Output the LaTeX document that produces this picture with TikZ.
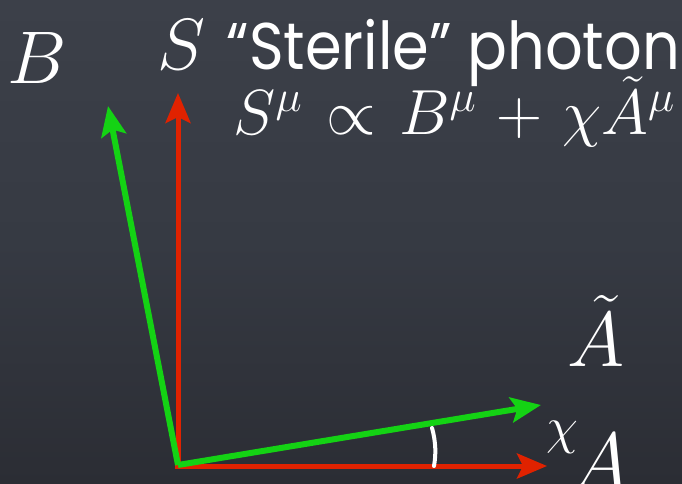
\documentclass[tikz,border=0pt]{standalone}
\usepackage{fontspec}
\newfontfamily\chalk{Poppins}
\usetikzlibrary{arrows.meta}
\definecolor{bgtop}{HTML}{3C4049}
\definecolor{bgmid}{HTML}{363A43}
\definecolor{bgbot}{HTML}{2B2D34}
\definecolor{vred}{HTML}{E02200}
\definecolor{vgreen}{HTML}{14D214}
\tikzset{
  vec/.style={line width=#1, -{Stealth[length=30pt,width=25pt,inset=6pt]}},
  lbl/.style={text=white, inner sep=0pt, font=\fontsize{20}{20}\selectfont},
  sz/.style={scale=#1/20},
}
\newcommand{\gp}{\mskip1.5mu}
\begin{document}
\begin{tikzpicture}[x=1pt,y=-1pt]
\shade[top color=bgtop, bottom color=bgbot, middle color=bgmid] (0,0) rectangle (682,484);
\useasboundingbox (0,0) rectangle (682,484);
\coordinate (O) at (178,465);
\coordinate (Otop) at (178,467);
\coordinate (Oleft) at (175,466);
\coordinate (Sv) at (178,93);
\coordinate (Av) at (547,466);
\coordinate (Bv) at (108,106);
\coordinate (At) at (541,405);
\draw[vec=5pt, vred] (Otop) -- (Sv);
\draw[vec=5pt, vred] (Oleft) -- (Av);
\draw[vec=6pt, vgreen] (O) -- (Bv);
\draw[vec=6pt, vgreen] (O) -- (At);
\coordinate (m1) at (432,428);
\coordinate (m2) at (434,466);
\draw[white, line width=4pt, line cap=round] (m1) .. controls (436,442) and (436,455) .. (m2);
\node[lbl, sz=72, anchor=base] (Blab) at (37,84) {$B$};
\node[lbl, sz=70, anchor=base] (Slab) at (181,70) {$S$};
\node[lbl, xscale=59/20, yscale=66/20, anchor=base west] (title) at (226,70) {\chalk “Sterile” photon};
\node[lbl, sz=61.5, anchor=base west] (eq) at (233,135) {$S^\mu\gp\propto\gp B^\mu\gp+\gp\chi\tilde{A}^\mu$};
\node[lbl, sz=75, anchor=base] (Atl) at (596,366) {$\tilde{A}$};
\node[lbl, sz=78, anchor=base] (Al) at (600,489) {$A$};
\node[lbl, sz=50, anchor=base] (chi) at (562,443) {$\chi$};
\end{tikzpicture}
\end{document}
